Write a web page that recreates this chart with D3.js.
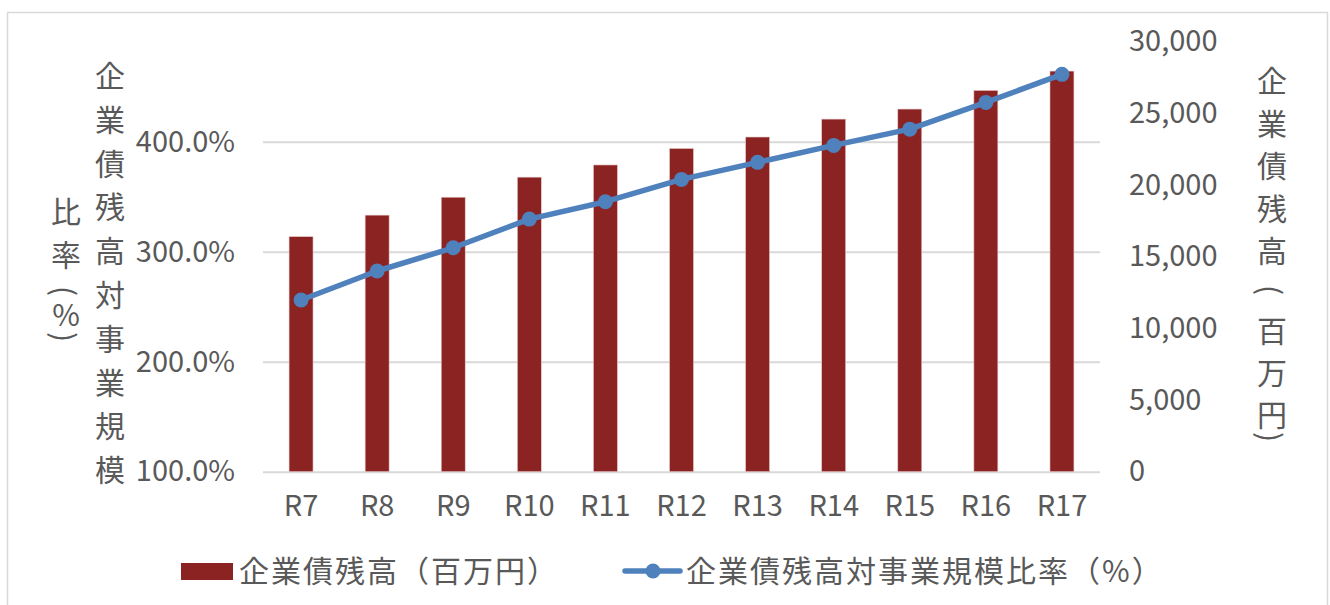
<!DOCTYPE html>
<html>
<head>
<meta charset="utf-8">
<script src="https://cdn.jsdelivr.net/npm/d3@7"></script>
<style>
  html, body { margin: 0; padding: 0; background: #fff; }
  svg { display: block; }
  text { font-family: "Noto Sans CJK JP", "Noto Sans", sans-serif; fill: #595959; }
</style>
</head>
<body>
<svg id="chart" width="1330" height="605"></svg>
<script>
// Fiscal years (Reiwa)
const categories = ["R7", "R8", "R9", "R10", "R11", "R12", "R13", "R14", "R15", "R16", "R17"];
// Corporate bond balance (million yen)
const debtBalance = [16400, 17900, 19150, 20550, 21400, 22550, 23350, 24600, 25300, 26600, 27950];
// Bond balance relative to business scale (%)
const debtRatio = [256.1, 282.5, 303.6, 329.7, 345.5, 365.8, 381.3, 396.7, 411.5, 435.8, 461.3];
// Axis ticks
const ratioTicks = [100, 200, 300, 400];
const balanceTicks = [0, 5000, 10000, 15000, 20000, 25000, 30000];

const barName = "企業債残高（百万円）";
const lineName = "企業債残高対事業規模比率（%）";

const BAR = "#8B2323";
const LINE = "#4F81BD";
const GRID = "#D9D9D9";

const svg = d3.select("#chart");

// frame
svg.append("rect")
  .attr("x", 7.5).attr("y", 12.5).attr("width", 1320).attr("height", 600)
  .attr("fill", "#fff").attr("stroke", GRID).attr("stroke-width", 1.5);

const plot = { left: 263, right: 1100, top: 41.7, bottom: 471.7 };

const x = d3.scaleBand()
  .domain(categories)
  .range([plot.left, plot.right])
  .paddingInner(0.685)
  .paddingOuter(0.3425);

const yRatio = d3.scaleLinear().domain([100, 491]).range([plot.bottom, plot.top]);
const yBalance = d3.scaleLinear().domain([0, 30000]).range([plot.bottom, plot.top]);

// gridlines from the ratio axis
const grid = svg.append("g")
  .attr("transform", `translate(${plot.left},0)`)
  .call(d3.axisLeft(yRatio).tickValues(ratioTicks).tickSize(-(plot.right - plot.left)).tickFormat(""));
grid.select(".domain").remove();
grid.selectAll("line").attr("stroke", GRID).attr("stroke-width", 2);

// bars
svg.append("g").selectAll("rect")
  .data(categories)
  .join("rect")
  .attr("x", d => x(d))
  .attr("width", x.bandwidth())
  .attr("y", (d, i) => yBalance(debtBalance[i]))
  .attr("height", (d, i) => yBalance(0) - yBalance(debtBalance[i]))
  .attr("fill", BAR)
  .attr("stroke", "#e8c8c8").attr("stroke-width", 0.6);

// ratio line
const linePts = categories.map((c, i) => [x(c) + x.bandwidth() / 2, yRatio(debtRatio[i])]);
svg.append("path")
  .attr("d", d3.line()(linePts))
  .attr("fill", "none").attr("stroke", LINE)
  .attr("stroke-width", 5.5).attr("stroke-linejoin", "round").attr("stroke-linecap", "round");
svg.append("g").selectAll("circle")
  .data(linePts)
  .join("circle")
  .attr("cx", d => d[0]).attr("cy", d => d[1]).attr("r", 7.5)
  .attr("fill", LINE);

// axes
function styleAxis(g, size) {
  g.select(".domain").remove();
  g.selectAll(".tick line").remove();
  g.selectAll("text")
    .style("font-family", '"Noto Sans CJK JP", sans-serif')
    .style("font-size", size + "px")
    .attr("fill", "#595959");
}

const leftAxis = svg.append("g")
  .attr("transform", `translate(${plot.left},0)`)
  .call(d3.axisLeft(yRatio).tickValues(ratioTicks).tickSize(0).tickPadding(28)
    .tickFormat(d => d.toFixed(1) + "%"));
styleAxis(leftAxis, 29);

const rightAxis = svg.append("g")
  .attr("transform", `translate(${plot.right},0)`)
  .call(d3.axisRight(yBalance).tickValues(balanceTicks).tickSize(0).tickPadding(29)
    .tickFormat(d3.format(",")));
styleAxis(rightAxis, 29);

const bottomAxis = svg.append("g")
  .attr("transform", `translate(0,${plot.bottom})`)
  .call(d3.axisBottom(x).tickSize(0).tickPadding(24));
styleAxis(bottomAxis, 29);

// vertical (stacked) axis titles
function stacked(glyphs, cx, firstCy) {
  const g = svg.append("g");
  let cy = firstCy;
  glyphs.forEach(([ch, step], i) => {
    if (i > 0) cy += step;
    const t = g.append("text")
      .attr("x", cx).attr("y", cy)
      .attr("text-anchor", "middle")
      .attr("dominant-baseline", "central")
      .style("font-size", "30px")
      .text(ch);
    if (ch === "(" || ch === ")") t.attr("transform", `rotate(90,${cx},${cy})`);
  });
}

stacked([..."企業債残高対事業規模"].map(c => [c, 43.8]), 110, 74);
stacked([["比", 0], ["率", 43], ["(", 38], ["%", 22], [")", 24]], 66, 210);
stacked([["企", 0], ["業", 42.5], ["債", 42.5], ["残", 42.5], ["高", 42.5], ["(", 41],
         ["百", 39], ["万", 42], ["円", 42], [")", 24]], 1272, 79);

// legend
const lg = svg.append("g");
lg.append("rect").attr("x", 181).attr("y", 563).attr("width", 52).attr("height", 17).attr("fill", BAR);
lg.append("text").attr("x", 239).attr("y", 569).attr("dominant-baseline", "central")
  .style("font-size", "30px").style("letter-spacing", "2px").text(barName);
lg.append("line").attr("x1", 625).attr("x2", 680).attr("y1", 571).attr("y2", 571)
  .attr("stroke", LINE).attr("stroke-width", 5.5).attr("stroke-linecap", "round");
lg.append("circle").attr("cx", 653).attr("cy", 571).attr("r", 7.5).attr("fill", LINE);
lg.append("text").attr("x", 686).attr("y", 569).attr("dominant-baseline", "central")
  .style("font-size", "30px").style("letter-spacing", "2px").text(lineName);
</script>
</body>
</html>
